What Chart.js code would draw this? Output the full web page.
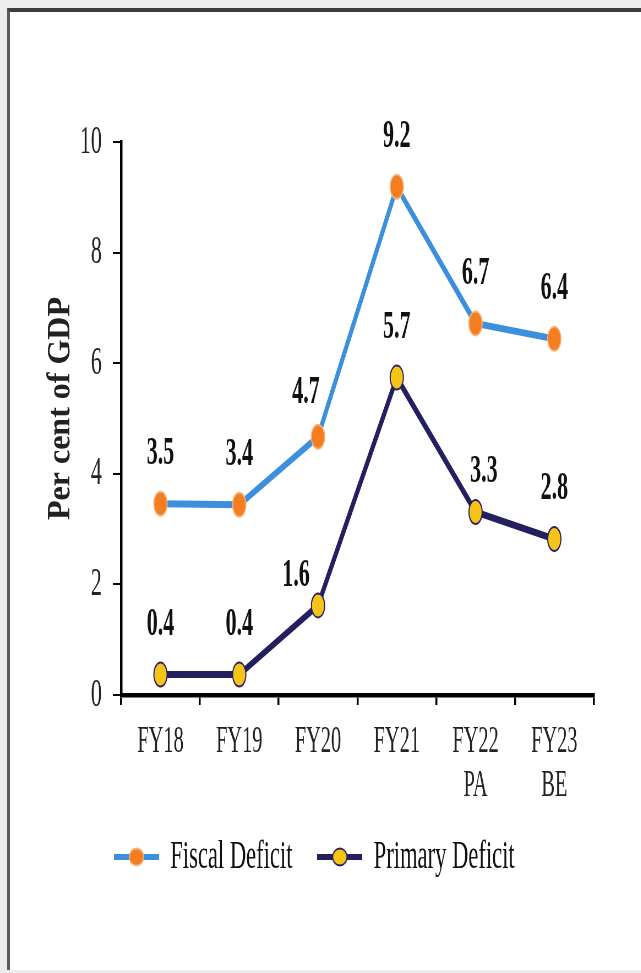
<!DOCTYPE html>
<html>
<head>
<meta charset="utf-8">
<script src="https://cdn.jsdelivr.net/npm/chart.js@4.4.0/dist/chart.umd.min.js"></script>
<style>
  html, body { margin: 0; padding: 0; width: 641px; height: 973px; overflow: hidden; background: #ececec; }
  #frame { position: absolute; left: 7px; top: 8px; width: 640px; height: 962px; background: #fff;
           border-top: 4px solid #3c3c3c; border-left: 3px solid #5a5a5a; box-sizing: border-box; }
  /* the source picture is squeezed sideways, so the chart is drawn wide and scaled down in x */
  #squeeze { position: absolute; left: 0; top: 0; height: 973px; transform-origin: 0 0; }
</style>
</head>
<body>
<div id="frame"></div>
<div id="squeeze"><canvas id="chart"></canvas></div>
<script>
const categories = ['FY18', 'FY19', 'FY20', 'FY21', ['FY22', 'PA'], ['FY23', 'BE']];
const fiscalDeficit = [3.46, 3.44, 4.67, 9.19, 6.72, 6.44];
const primaryDeficit = [0.37, 0.37, 1.62, 5.74, 3.31, 2.82];
const yTicks = [0, 2, 4, 6, 8, 10];
const yTitle = 'Per cent of GDP';

const SQUEEZE = 0.55;
const box = document.getElementById('squeeze');
box.style.width = (641 / SQUEEZE) + 'px';
box.style.transform = 'scaleX(' + SQUEEZE + ')';

const serif = '"Liberation Serif", "Times New Roman", serif';

// label nudges (logical px) where the source moves a value label off the point
const labelShift = {
  0: { 2: [-22, 44] },
  1: { 2: [-40, 30], 4: [15, 40] }
};

function legendIcon(line, fill, edge) {
  const c = document.createElement('canvas');
  c.width = 82; c.height = 28;
  const g = c.getContext('2d');
  g.strokeStyle = line; g.lineWidth = 6;
  g.beginPath(); g.moveTo(0, 14); g.lineTo(82, 14); g.stroke();
  g.beginPath(); g.ellipse(41, 14, 13, 8.5, 0, 0, Math.PI * 2);
  g.fillStyle = fill; g.fill();
  g.strokeStyle = edge; g.lineWidth = 2; g.stroke();
  return c;
}
const icons = [
  legendIcon('#3b8fdc', '#f37d1f', '#f6b27a'),
  legendIcon('#241f5e', '#f6c417', '#2a2060')
];

const valueLabels = {
  id: 'valueLabels',
  afterLayout(chart) {
    // source legend sits a little left of the plot centre and close under the labels
    const lg = chart.legend;
    lg.left = 0;
    lg.right = 2 * (314 / SQUEEZE);
    const h = lg.bottom - lg.top;
    lg.top = 791.5;
    lg.bottom = lg.top + h;
  },
  afterDatasetsDraw(chart) {
    const ctx = chart.ctx;
    const area = chart.chartArea;
    ctx.save();
    ctx.font = 'bold 40px ' + serif;
    ctx.fillStyle = '#111';
    ctx.textAlign = 'center';
    ctx.textBaseline = 'middle';
    chart.data.datasets.forEach((ds, d) => {
      chart.getDatasetMeta(d).data.forEach((pt, i) => {
        const s = (labelShift[d] && labelShift[d][i]) || [0, 50];
        ctx.fillText(ds.data[i].toFixed(1), pt.x + s[0], pt.y - s[1]);
      });
    });
    // axis title, drawn unsqueezed like in the source
    ctx.translate(61 / SQUEEZE, (area.top + area.bottom) / 2 - 10);
    ctx.scale(1 / SQUEEZE, 1);
    ctx.rotate(-Math.PI / 2);
    ctx.font = 'bold 32px ' + serif;
    ctx.fillStyle = '#222';
    ctx.fillText(yTitle, 0, 0);
    ctx.restore();
  }
};

new Chart(document.getElementById('chart'), {
  type: 'line',
  data: {
    labels: categories,
    datasets: [{
      label: 'Fiscal Deficit',
      data: fiscalDeficit,
      borderColor: '#3b8fdc',
      borderWidth: 7,
      pointRadius: 12,
      pointBackgroundColor: '#f37d1f',
      pointBorderColor: '#f6b27a',
      pointBorderWidth: 2,
      tension: 0
    }, {
      label: 'Primary Deficit',
      data: primaryDeficit,
      borderColor: '#241f5e',
      borderWidth: 7,
      pointRadius: 12,
      pointBackgroundColor: '#f6c417',
      pointBorderColor: '#2a2060',
      pointBorderWidth: 2,
      tension: 0
    }]
  },
  options: {
    responsive: true,
    maintainAspectRatio: false,
    animation: false,
    layout: { padding: { top: 142, right: 87, bottom: 67, left: 0 } },
    plugins: {
      tooltip: { enabled: false },
      legend: {
        position: 'bottom',
        labels: {
          usePointStyle: true,
          pointStyleWidth: 82,
          padding: 45,
          color: '#111',
          font: { family: serif, size: 41 },
          generateLabels(chart) {
            return Chart.defaults.plugins.legend.labels.generateLabels(chart)
              .map((l, i) => Object.assign(l, { pointStyle: icons[i] }));
          }
        }
      }
    },
    scales: {
      x: {
        offset: true,
        afterFit(scale) { scale.height = 115; },
        border: { display: true, color: '#000', width: 4.5 },
        grid: { offset: true, drawOnChartArea: false, drawTicks: true, tickLength: 10, color: '#000', lineWidth: 3.5 },
        ticks: { color: '#222', padding: 15, font: { family: serif, size: 37, lineHeight: 1.19 } }
      },
      y: {
        min: 0,
        max: 10,
        afterFit(scale) { scale.width = 220; },
        afterBuildTicks(scale) { scale.ticks = yTicks.map(v => ({ value: v })); },
        border: { display: true, color: '#000', width: 4.5 },
        grid: { drawOnChartArea: false, drawTicks: true, tickLength: 15, color: '#000', lineWidth: 2 },
        ticks: { color: '#222', padding: 20, font: { family: serif, size: 40 } }
      }
    }
  },
  plugins: [valueLabels]
});
</script>
</body>
</html>
